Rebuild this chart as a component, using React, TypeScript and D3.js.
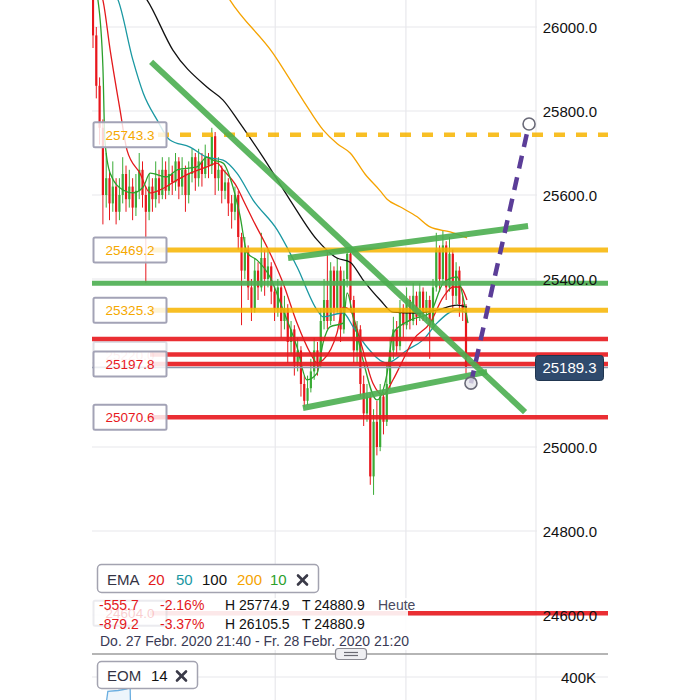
import React from "react";
import * as d3 from "d3";

const firstOpen = 26080;
const closes = [
  25980, 25860, 25760, 25600, 25640, 25580, 25620, 25560, 25600, 25650,
  25590, 25620, 25570, 25610, 25660, 25600, 25560, 25620, 25590, 25640,
  25600, 25660, 25610, 25650, 25630, 25680, 25620, 25660, 25600, 25650,
  25690, 25640, 25680, 25650, 25690, 25670, 25740, 25640, 25660, 25610,
  25630, 25580, 25560, 25600, 25500, 25420, 25470, 25380, 25330, 25420,
  25380, 25450, 25400, 25430, 25370, 25330, 25380, 25300, 25330, 25250,
  25280, 25200, 25230, 25150, 25110, 25140, 25180, 25230, 25200, 25300,
  25350, 25300, 25420, 25330, 25420, 25280, 25400, 25460, 25350, 25230,
  25280, 25150, 25080, 25120, 24930, 25060, 25000, 25120, 25060, 25150,
  25230, 25280, 25240, 25330, 25290, 25350, 25300, 25360, 25310, 25370,
  25320, 25350, 25290, 25380, 25470, 25400, 25480, 25380, 25460, 25360,
  25420, 25340, 25326, 25189,
];
const highs = [
  26110, 26000, 25880, 25780, 25700, 25660, 25680, 25640, 25640, 25690,
  25670, 25660, 25640, 25650, 25700, 25680, 25620, 25650, 25640, 25680,
  25660, 25690, 25680, 25690, 25670, 25700, 25690, 25690, 25670, 25680,
  25710, 25700, 25710, 25700, 25720, 25700, 25760, 25750, 25690, 25670,
  25660, 25640, 25600, 25620, 25610, 25510, 25500, 25480, 25400, 25450,
  25440, 25510, 25470, 25470, 25440, 25380, 25400, 25390, 25360, 25340,
  25300, 25290, 25260, 25240, 25170, 25170, 25210, 25260, 25250, 25330,
  25400, 25465, 25440, 25430, 25450, 25430, 25420, 25475, 25470, 25360,
  25300, 25290, 25170, 25150, 25130, 25090, 25110, 25150, 25130, 25200,
  25260, 25310, 25300, 25350, 25340, 25380, 25360, 25390, 25370, 25390,
  25380, 25370, 25360, 25400, 25510, 25480, 25515, 25490, 25500, 25470,
  25440, 25430, 25360, 25340,
];
const lows = [
  25950, 25830, 25720, 25530, 25570, 25540, 25560, 25530, 25540, 25580,
  25560, 25570, 25540, 25550, 25590, 25570, 25390, 25540, 25560, 25570,
  25580, 25590, 25590, 25600, 25600, 25610, 25590, 25600, 25560, 25580,
  25630, 25610, 25620, 25620, 25640, 25640, 25650, 25600, 25610, 25580,
  25590, 25550, 25520, 25540, 25470, 25290, 25400, 25350, 25300, 25320,
  25350, 25370, 25360, 25380, 25340, 25300, 25310, 25260, 25280, 25200,
  25220, 25170, 25180, 25120, 25095, 25100, 25130, 25160, 25170, 25190,
  25280, 25280, 25290, 25300, 25320, 25250, 25270, 25380, 25320, 25200,
  25200, 25120, 25050, 25060, 24910, 24886, 24980, 24990, 25030, 25050,
  25140, 25210, 25220, 25230, 25260, 25280, 25280, 25290, 25290, 25300,
  25300, 25300, 25210, 25280, 25370, 25370, 25390, 25350, 25370, 25330,
  25340, 25310, 25300, 25175,
];

const ema10: [number, number][] = [
  [0.9, 26088], [1.5, 26064], [3, 25905], [3.6, 25731], [5.2, 25652], [9.1, 25612],
  [12.1, 25605], [15.2, 25619], [17.3, 25652], [22.4, 25643], [25.5, 25660],
  [31.5, 25667], [34.5, 25690], [36.4, 25683], [39.4, 25676], [42.4, 25619],
  [44.5, 25552], [46.7, 25462], [49.7, 25445], [53.6, 25405], [57.6, 25326],
  [61.8, 25238], [64.8, 25160], [67.9, 25176], [69.7, 25248], [71.8, 25286],
  [75.8, 25295], [77, 25367], [78.8, 25310], [81.8, 25207], [86, 25112],
  [89.1, 25176], [90.9, 25271], [96.1, 25302], [102.1, 25319], [106.1, 25390],
  [110.3, 25405], [112.1, 25357], [113.6, 25295],
];
const ema20: [number, number][] = [
  [2.1, 26088], [3, 26064], [5.2, 25945], [8.2, 25802], [10.3, 25707], [14.2, 25652],
  [17.3, 25605], [20.3, 25612], [25.5, 25636], [29.4, 25652], [34.5, 25667],
  [37.6, 25676], [39.4, 25660], [43.6, 25619], [45.5, 25588], [48.5, 25540],
  [53.6, 25462], [57.6, 25390], [61.8, 25295], [65.8, 25224], [67.9, 25200],
  [69.7, 25207], [73.9, 25271], [75.8, 25333], [77.9, 25326], [80.9, 25255],
  [84.8, 25152], [87.9, 25124], [90.9, 25160], [93.9, 25207], [97, 25255],
  [102.1, 25295], [106.1, 25357], [109.1, 25381], [111.2, 25381], [113.3, 25350],
];
const ema50: [number, number][] = [
  [6, 26088], [7.6, 26064], [12.1, 25921], [15.2, 25843], [19.4, 25779], [23.3, 25731],
  [29.4, 25714], [34.5, 25690], [39.4, 25683], [43.6, 25652], [48.5, 25588],
  [55.8, 25517], [61.8, 25429], [67.9, 25326], [69.7, 25310], [75.8, 25319],
  [78.8, 25286], [83, 25238], [89.1, 25200], [95.2, 25231], [100, 25255],
  [104.2, 25295], [110.3, 25326], [113.3, 25319],
];
const ema100: [number, number][] = [
  [14.2, 26088], [16.4, 26064], [24.2, 25945], [34.5, 25857], [39.4, 25826],
  [44.5, 25771], [51.5, 25690], [59.7, 25588], [67.9, 25493], [73.9, 25450],
  [77.9, 25440], [81.8, 25398], [87, 25350], [90.9, 25321], [98.2, 25319],
  [104.2, 25326], [110.3, 25338], [113.3, 25333],
];
const ema200: [number, number][] = [
  [38, 26110], [41.5, 26064], [54.5, 25938], [63.6, 25826], [69.7, 25755],
  [74, 25722], [77.9, 25700], [82.4, 25650], [87, 25610], [89.1, 25590],
  [93, 25572], [98.2, 25548], [102.1, 25524], [108.2, 25512], [113.3, 25498],
];

const eomPoints: [number, number][] = [
  [3.6, 280000], [4.5, 352000], [7.6, 355000], [10.3, 360000], [11.2, 400000], [11.4, 280000],
];

const priceTicks = [26000, 25800, 25600, 25400, 25200, 25000, 24800, 24600];
const priceTickLabels = ["26000.0", "25800.0", "25600.0", "25400.0", "25200.0", "25000.0", "24800.0", "24600.0"];
const volTicks = [400000, 300000];
const volTickLabels = ["400K", "300K"];
const timeGridIdx = [55.2, 94.8, 134.2];

const orangeDashedLevels = [25743.3];
const orangeLevels = [25469.2, 25325.3];
const redLabeledLevels = [25220.0, 25197.8, 25070.6];
const redPlainLevels = [25257];
const greenLevels = [25390];
const fadedLevel = 24604.0;
const currentPrice = 25189.3;

const trendLines: [[number, number], [number, number]][] = [
  [[17.6, 25917], [130.9, 25083]],
  [[59.1, 25450], [131.8, 25526]],
  [[63.6, 25093], [119.4, 25179]],
];
const projection: [[number, number], [number, number]] = [[114.5, 25152], [132.1, 25769]];

const legendItems = [
  { t: "20", c: "#e3191c" },
  { t: "50", c: "#1a98a2" },
  { t: "100", c: "#111111" },
  { t: "200", c: "#f5a300" },
  { t: "10", c: "#2ca02c" },
];
const infoRows = [
  ["-555.7", "-2.16%", "H 25774.9", "T 24880.9", "Heute"],
  ["-879.2", "-3.37%", "H 26105.5", "T 24880.9", ""],
];
const dateText = "Do. 27 Febr. 2020 21:40 - Fr. 28 Febr. 2020 21:20";

const FONT = "'Liberation Sans', Arial, Helvetica, sans-serif";
const UP = "#3aab36";
const DOWN = "#e8161c";
const ORANGE = "#f7b400";
const RED = "#e8181e";
const GREEN = "#4caf50";

const XMark = ({ cx, cy }: { cx: number; cy: number }) => (
  <g stroke="#3a3a48" strokeWidth={2.6} strokeLinecap="round">
    <line x1={cx - 4.5} y1={cy - 4.5} x2={cx + 4.5} y2={cy + 4.5} />
    <line x1={cx - 4.5} y1={cy + 4.5} x2={cx + 4.5} y2={cy - 4.5} />
  </g>
);

export default function App() {
  const x = d3.scaleLinear().domain([0, 113]).range([93, 466]);
  const y = d3.scaleLinear().domain([24600, 26000]).range([615, 27]);
  const yv = d3.scaleLinear().domain([300000, 400000]).range([707, 677]);
  const opens = closes.map((c, i) => (i === 0 ? firstOpen : closes[i - 1]));
  const line = d3
    .line<[number, number]>()
    .x((d) => x(d[0]))
    .y((d) => y(d[1]))
    .curve(d3.curveMonotoneX);
  const eomLine = d3
    .line<[number, number]>()
    .x((d) => x(d[0]))
    .y((d) => yv(d[1]));

  const PL = 92, PR = 608;
  const labelBox = (v: number, color: string, text: string, faded = false, key?: string) => (
    <g key={key} opacity={faded ? 0.35 : 1}>
      <rect x={93.5} y={y(v) - 12.5} width={73} height={25} rx={1.5} fill="#ffffff" fillOpacity={0.82} stroke="#a3a3b6" strokeWidth={2} />
      <text x={130} y={y(v) + 5} textAnchor="middle" fontSize={13.5} fill={color} fontFamily={FONT}>{text}</text>
    </g>
  );

  return (
    <svg width={700} height={700} style={{ position: "fixed", left: 0, top: 0, background: "#fff" }} fontFamily={FONT}>
      <defs>
        <clipPath id="plot">
          <rect x={PL} y={0} width={PR - PL} height={652} />
        </clipPath>
        <clipPath id="lower">
          <rect x={PL} y={655} width={PR - PL} height={45} />
        </clipPath>
      </defs>
      <rect x={0} y={0} width={700} height={700} fill="#ffffff" />
      {/* grid */}
      {priceTicks.map((t) => (
        <line key={"g" + t} x1={PL} x2={537} y1={y(t)} y2={y(t)} stroke="#e8e8ec" strokeWidth={1.2} />
      ))}
      {timeGridIdx.map((t) => (
        <line key={"v" + t} x1={x(t)} x2={x(t)} y1={0} y2={700} stroke="#e8e8ec" strokeWidth={1.2} />
      ))}
      <line x1={PL} x2={PR} y1={yv(400000)} y2={yv(400000)} stroke="#e8e8ec" strokeWidth={1.2} />

      <g clipPath="url(#plot)">
        {/* candles */}
        {closes.map((c, i) => {
          const o = opens[i];
          const col = c >= o ? UP : DOWN;
          const top = y(Math.max(o, c));
          const bot = y(Math.min(o, c));
          return (
            <g key={"c" + i}>
              <line x1={x(i)} x2={x(i)} y1={y(highs[i])} y2={y(lows[i])} stroke={col} strokeWidth={1} />
              <rect x={x(i) - 1.1} y={top} width={2.2} height={Math.max(1, bot - top)} fill={col} />
            </g>
          );
        })}
        {/* EMAs */}
        <path d={line(ema200) || ""} fill="none" stroke="#f5a300" strokeWidth={1.3} />
        <path d={line(ema100) || ""} fill="none" stroke="#111111" strokeWidth={1.3} />
        <path d={line(ema50) || ""} fill="none" stroke="#1a98a2" strokeWidth={1.3} />
        <path d={line(ema20) || ""} fill="none" stroke="#e3191c" strokeWidth={1.3} />
        <path d={line(ema10) || ""} fill="none" stroke="#2ca02c" strokeWidth={1.3} />

        {/* current price line */}
        <line x1={PL} x2={PR} y1={y(currentPrice)} y2={y(currentPrice)} stroke="#8a9ab0" strokeWidth={1.3} />

        {/* level lines */}
        {greenLevels.map((v) => (
          <line key={"gl" + v} x1={PL} x2={PR} y1={y(v)} y2={y(v)} stroke={GREEN} strokeWidth={5} opacity={0.9} />
        ))}
        {orangeLevels.map((v) => (
          <line key={"ol" + v} x1={150} x2={PR} y1={y(v)} y2={y(v)} stroke={ORANGE} strokeWidth={5} opacity={0.85} />
        ))}
        {orangeDashedLevels.map((v) => (
          <line key={"od" + v} x1={158} x2={PR} y1={y(v)} y2={y(v)} stroke={ORANGE} strokeWidth={4.5} strokeDasharray="11 11" opacity={0.85} />
        ))}
        {redPlainLevels.map((v) => (
          <line key={"rp" + v} x1={PL} x2={PR} y1={y(v)} y2={y(v)} stroke={RED} strokeWidth={4.5} opacity={0.9} />
        ))}
        {redLabeledLevels.map((v) => (
          <line key={"rl" + v} x1={150} x2={PR} y1={y(v)} y2={y(v)} stroke={RED} strokeWidth={4.5} opacity={0.9} />
        ))}
        <line x1={150} x2={PR} y1={y(fadedLevel)} y2={y(fadedLevel)} stroke={RED} strokeWidth={4.5} opacity={0.9} />

        {/* trendlines */}
        {trendLines.map((tl, k) => (
          <line key={"t" + k} x1={x(tl[0][0])} y1={y(tl[0][1])} x2={x(tl[1][0])} y2={y(tl[1][1])} stroke={GREEN} strokeWidth={6} opacity={0.9} />
        ))}
        <line
          x1={x(projection[0][0])} y1={y(projection[0][1])}
          x2={x(projection[1][0])} y2={y(projection[1][1])}
          stroke="#5b3d98" strokeWidth={4.5} strokeDasharray="13 9"
        />
        <circle cx={x(projection[0][0])} cy={y(projection[0][1])} r={6} fill="#e4e4ea" fillOpacity={0.8} stroke="#6a6a78" strokeWidth={1.6} />
        <circle cx={x(projection[1][0])} cy={y(projection[1][1])} r={6} fill="#ffffff" stroke="#6a6a78" strokeWidth={1.6} />
      </g>

      {/* level label boxes */}
      {labelBox(orangeDashedLevels[0], "#f5a800", "25743.3", false, "b1")}
      {labelBox(orangeLevels[0], "#f5a800", "25469.2", false, "b2")}
      {labelBox(orangeLevels[1], "#f5a800", "25325.3", false, "b3")}
      {labelBox(redLabeledLevels[0], "#e8181e", "25220.0", true, "b4")}
      {labelBox(redLabeledLevels[1], "#e8181e", "25197.8", false, "b5")}
      {labelBox(redLabeledLevels[2], "#e8181e", "25070.6", false, "b6")}

      {/* info panel overlay */}
      <rect x={PL} y={598} width={316} height={52} fill="#ffffff" fillOpacity={0.82} />
      {labelBox(fadedLevel, "#e8181e", "24604.0", true, "b7")}
      <rect x={PL} y={598} width={316} height={52} fill="#ffffff" fillOpacity={0.4} />

      {/* EMA legend */}
      <rect x={97.5} y={564.5} width={221} height={28} rx={4} fill="#ffffff" stroke="#a3a3b0" strokeWidth={1.5} />
      <text x={107} y={585} fontSize={15} fill="#333344">EMA</text>
      {legendItems.map((it, k) => (
        <text key={"li" + k} x={[148, 176, 202, 237, 270][k]} y={585} fontSize={15} fill={it.c}>{it.t}</text>
      ))}
      <XMark cx={302.5} cy={580} />

      {/* info rows */}
      {infoRows.map((r, k) => (
        <g key={"ir" + k} fontSize={14}>
          <text x={99} y={610 + k * 18.5} fill="#e3191c">{r[0]}</text>
          <text x={160} y={610 + k * 18.5} fill="#e3191c">{r[1]}</text>
          <text x={225} y={610 + k * 18.5} fill="#111111">{r[2]}</text>
          <text x={302} y={610 + k * 18.5} fill="#111111">{r[3]}</text>
          <text x={378} y={610 + k * 18.5} fill="#4a4a60">{r[4]}</text>
        </g>
      ))}
      <text x={100} y={645.5} fontSize={14} fill="#3a3a55">{dateText}</text>

      {/* separator */}
      <line x1={PL} x2={PR} y1={654} y2={654} stroke="#9c9c9c" strokeWidth={1.5} />
      <rect x={335.5} y={648.5} width={31} height={11} rx={3} fill="#efeff2" stroke="#8a8a92" strokeWidth={1.2} />
      <line x1={344} x2={358} y1={652.5} y2={652.5} stroke="#6a6a72" strokeWidth={1.2} />
      <line x1={344} x2={358} y1={655.5} y2={655.5} stroke="#6a6a72" strokeWidth={1.2} />

      {/* lower panel */}
      <g clipPath="url(#lower)">
        <path d={eomLine(eomPoints) || ""} fill="#dcecf8" fillOpacity={0.5} stroke="#6aaee0" strokeWidth={1.3} />
      </g>
      <rect x={97.5} y={661.5} width={100} height={27} rx={4} fill="#ffffff" stroke="#a3a3b0" strokeWidth={1.5} />
      <text x={107} y={681} fontSize={15} fill="#333344">EOM</text>
      <text x={151} y={681} fontSize={15} fill="#111111">14</text>
      <XMark cx={181.5} cy={676} />

      {/* axis labels */}
      {priceTicks.map((t, k) => (
        <text key={"pt" + t} x={597} y={y(t) + 5.5} textAnchor="end" fontSize={15} fill="#111111">{priceTickLabels[k]}</text>
      ))}
      {volTicks.map((t, k) => (
        <text key={"vt" + t} x={596} y={yv(t) + 5.5} textAnchor="end" fontSize={15} fill="#111111">{volTickLabels[k]}</text>
      ))}

      {/* current price label */}
      <rect x={535.5} y={y(currentPrice) - 12} width={68} height={25} rx={3} fill="#2f4a6d" stroke="#20354f" strokeWidth={1} />
      <text x={569.5} y={y(currentPrice) + 5.5} textAnchor="middle" fontSize={15} fill="#ffffff">25189.3</text>
    </svg>
  );
}
